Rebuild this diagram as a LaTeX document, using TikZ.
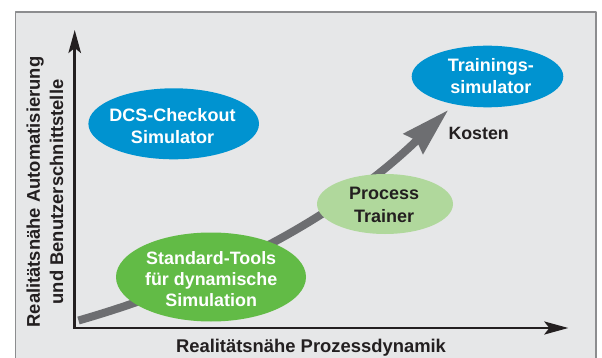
\documentclass[tikz,border=0pt]{standalone}
\usepackage{fontspec}
\setmainfont{Liberation Sans}
\usepackage{xcolor}
\usetikzlibrary{arrows.meta}
\usetikzlibrary{shapes.geometric}
\definecolor{bgfill}{HTML}{E6E7E8}
\definecolor{bgframe}{HTML}{8C8D8F}
\definecolor{axisblack}{HTML}{231F20}
\definecolor{dcsblue}{HTML}{0093D0}
\definecolor{stdgreen}{HTML}{62BB46}
\definecolor{ptgreen}{HTML}{B0D89C}
\definecolor{costgray}{HTML}{6D6E71}

\begin{document}
\begin{tikzpicture}[line cap=round,line join=round,x=1pt,y=-1pt,
  blob/.style={ellipse,inner sep=0pt,draw=none},
  blobtext/.style={align=center,inner sep=0pt,font=\fontsize{18}{22.3}\selectfont\bfseries},
  axislabel/.style={align=center,inner sep=0pt,text=axisblack,font=\fontsize{18.4}{23.3}\selectfont\bfseries}]
\useasboundingbox (0,0) rectangle (602,358);
\fill [bgfill] (15.5,12) rectangle (596,358);
\draw [bgframe,line width=1.2pt,line cap=butt] (15.5,358) |- (596,12) -- (596,358);
\coordinate (o) at (74.7,328);
\coordinate (ytip) at (74.7,30);
\coordinate (xtip) at (568.3,328);
\draw [axisblack,line width=2.6pt,line cap=butt,line join=miter,{Stealth[length=23pt,width=12.5pt,inset=5pt]}-{Stealth[length=24pt,width=13pt,inset=5pt]}] (ytip) -- (o) -- (xtip);
\coordinate (kstart) at (78.5,320.5);
\coordinate (kend) at (448.3,110);
\draw [costgray,line width=8pt,line cap=butt,-{Stealth[length=48pt,width=27pt,inset=4pt]}] (kstart) .. controls +(-16:150) and +(136:150) .. (kend);
\node [blob,fill=dcsblue,minimum width=170.6pt,minimum height=71pt] (dcs) at (173.7,123.8) {};
\node [blobtext,text=white] (dcstext) at (172.5,126.4) {DCS-Checkout\\Simulator};
\node [blob,fill=dcsblue,minimum width=151.6pt,minimum height=61.6pt] (train) at (487.5,76.5) {};
\node [blobtext,text=white] (traintext) at (490.8,75.8) {Trainings-\\simulator};
\node [blob,fill=ptgreen,minimum width=136pt,minimum height=60pt] (pt) at (385,204) {};
\node [blobtext,text=axisblack,font=\fontsize{18}{23.3}\selectfont\bfseries] (pttext) at (384.2,204.6) {Process\\Trainer};
\node [blob,fill=stdgreen,minimum width=190pt,minimum height=89pt] (std) at (211,277) {};
\node [blobtext,text=white,font=\fontsize{17.9}{21}\selectfont\bfseries] (stdtext) at (211.2,278.7) {Standard-Tools\\für dynamische\\Simulation};
\node [axislabel,anchor=base west,font=\fontsize{17.8}{23}\selectfont\bfseries] (kosten) at (448.3,140) {Kosten};
\node [axislabel,anchor=base] (xlabel) at (311,352.7) {Realitätsnähe Prozessdynamik};
\node [axislabel,rotate=90] (ylabel) at (45,192) {Realitätsnähe Automatisierung\\und Benutzerschnittstelle};
\end{tikzpicture}
\end{document}
